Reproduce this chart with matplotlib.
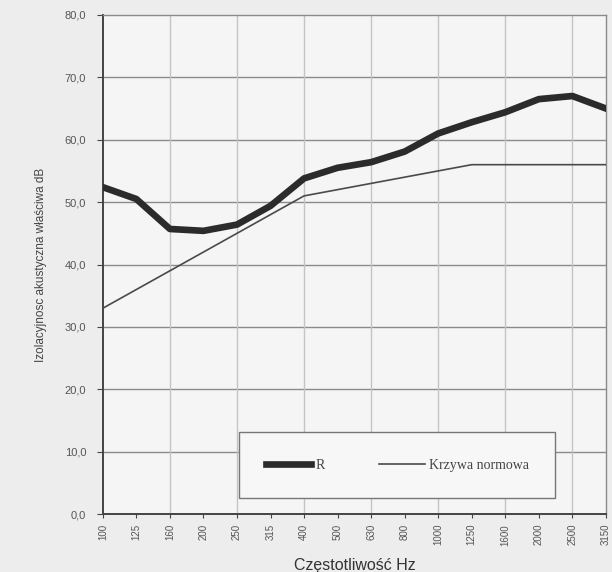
import numpy as np
import matplotlib
matplotlib.use('Agg')
import matplotlib.pyplot as plt
from matplotlib.ticker import FuncFormatter

# dane
czestotliwosci = ['100', '125', '160', '200', '250', '315', '400', '500', '630',
                  '800', '1000', '1250', '1600', '2000', '2500', '3150']
R = [52.4, 50.5, 45.7, 45.4, 46.4, 49.4, 53.8, 55.5, 56.4,
     58.1, 61.0, 62.8, 64.4, 66.5, 67.0, 65.0]
krzywa_normowa = [33, 36, 39, 42, 45, 48, 51, 52, 53, 54, 55, 56, 56, 56, 56, 56]
y_ticks = [0, 10, 20, 30, 40, 50, 60, 70, 80]

plt.rcParams['font.family'] = ['Liberation Sans', 'DejaVu Sans']

fig = plt.figure(figsize=(6.12, 5.72), dpi=100, facecolor='#ededed')
ax = fig.add_axes([0.168, 0.101, 0.822, 0.873])
ax.set_facecolor('#f5f5f5')

x = np.arange(len(czestotliwosci))
ax.plot(x, R, color='#2b2b2b', lw=4.8, solid_joinstyle='round', label='R', zorder=3)
ax.plot(x, krzywa_normowa, color='#4a4a4a', lw=1.2, label='Krzywa normowa', zorder=3)

ax.set_xlim(0, len(czestotliwosci) - 1)
ax.set_ylim(0, 80)
ax.set_xticks(x)
ax.set_xticklabels(czestotliwosci, rotation=90, fontsize=7, color='#555555')
ax.set_yticks(y_ticks)
ax.yaxis.set_major_formatter(FuncFormatter(lambda v, p: f'{v:.1f}'.replace('.', ',')))
ax.tick_params(axis='y', labelsize=8, labelcolor='#555555', length=4, color='#444444', pad=8)
ax.tick_params(axis='x', length=3, color='#444444', pad=4)

# siatka
for yv in y_ticks[1:-1]:
    ax.axhline(yv, color='#8a8a8a', lw=1.0, zorder=1)
for xv in x[2:-1:2]:
    ax.axvline(xv, color='#c4c4c4', lw=1.0, zorder=1)

for s in ['left', 'bottom']:
    ax.spines[s].set_color('#444444')
    ax.spines[s].set_linewidth(1.4)
for s in ['top', 'right']:
    ax.spines[s].set_color('#8a8a8a')
    ax.spines[s].set_linewidth(1.0)

ax.set_ylabel('Izolacyjnosc akustyczna właściwa dB', fontsize=8.5, color='#444444', labelpad=13)
ax.set_xlabel('Częstotliwość Hz', fontsize=11.5, color='#333333', labelpad=9)

leg = ax.legend(ncol=2, loc='upper left', bbox_to_anchor=(0.271, 0.164),
                frameon=True, fancybox=False, handlelength=3.3,
                handletextpad=0.3, borderpad=1.9, borderaxespad=0, columnspacing=3.9,
                prop={'family': 'Liberation Serif', 'size': 10})
leg.get_frame().set_edgecolor('#777777')
leg.get_frame().set_facecolor('#f7f7f7')
leg.get_frame().set_alpha(1)
leg.get_frame().set_linewidth(1.0)
for t in leg.get_texts():
    t.set_color('#444444')

fig.savefig('out.png', dpi=100, facecolor=fig.get_facecolor())
